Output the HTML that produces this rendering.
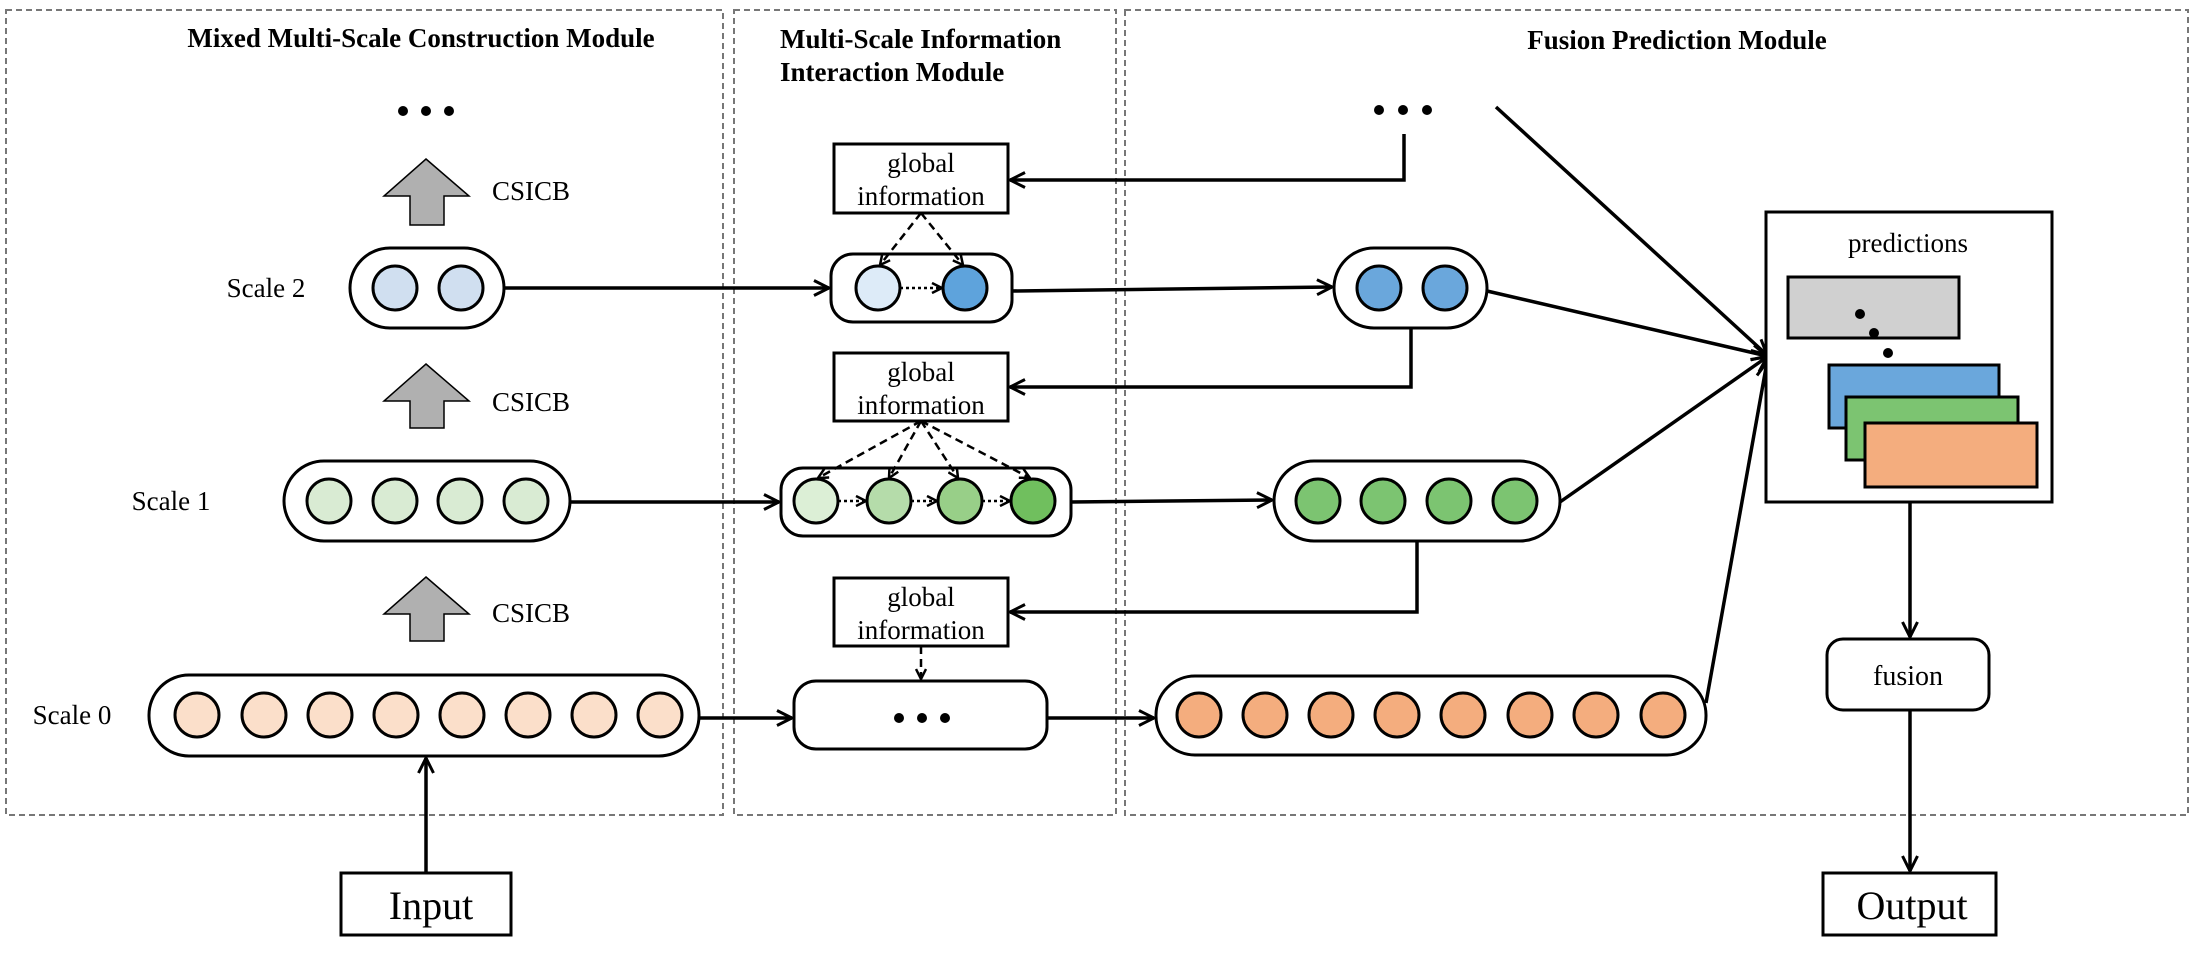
<!DOCTYPE html>
<html><head><meta charset="utf-8"><style>
html,body{margin:0;padding:0;background:#fff;}
svg{display:block;}
text{font-family:"Liberation Serif",serif;fill:#000;}
</style></head><body>
<svg width="2194" height="953" viewBox="0 0 2194 953" xmlns="http://www.w3.org/2000/svg">
<defs>
<marker id="a" viewBox="0 0 12 12" refX="11" refY="6" markerWidth="12" markerHeight="12" markerUnits="userSpaceOnUse" orient="auto">
<path d="M1,1 L11,6 L1,11" fill="none" stroke="#000" stroke-width="2.5"/></marker>
<marker id="b" viewBox="0 0 12 12" refX="11" refY="6" markerWidth="18" markerHeight="18" markerUnits="userSpaceOnUse" orient="auto">
<path d="M1,1 L11,6 L1,11" fill="none" stroke="#000" stroke-width="2"/></marker>
</defs>
<g fill="none" stroke="#777" stroke-width="2" stroke-dasharray="6,4">
<rect x="6" y="10" width="717" height="805"/>
<rect x="734" y="10" width="382" height="805"/>
<rect x="1125" y="10" width="1063" height="805"/>
</g>
<g font-weight="bold" font-size="27">
<text x="421" y="47" text-anchor="middle">Mixed Multi-Scale Construction Module</text>
<text x="780" y="48">Multi-Scale Information</text>
<text x="780" y="81">Interaction Module</text>
<text x="1677" y="49" text-anchor="middle">Fusion Prediction Module</text>
</g>
<g fill="#000"><circle cx="403" cy="111" r="5"/><circle cx="426" cy="111" r="5"/><circle cx="449" cy="111" r="5"/>
<circle cx="1379" cy="110" r="5"/><circle cx="1403" cy="110" r="5"/><circle cx="1427" cy="110" r="5"/></g>
<g fill="#b0b0b0" stroke="#000" stroke-width="1.5">
<path d="M426,159 L469,196 L444,196 L444,225 L410,225 L410,196 L384,196 Z"/>
<path d="M426,364 L469,401 L444,401 L444,428 L410,428 L410,401 L384,401 Z"/>
<path d="M426,577 L469,614 L444,614 L444,641 L410,641 L410,614 L384,614 Z"/>
</g>
<g font-size="27"><text x="492" y="200">CSICB</text><text x="492" y="411">CSICB</text><text x="492" y="622">CSICB</text></g>
<g font-size="27" text-anchor="middle"><text x="266" y="297">Scale 2</text><text x="171" y="510">Scale 1</text><text x="72" y="724">Scale 0</text></g>
<g fill="#fff" stroke="#000" stroke-width="3">
<rect x="350" y="248" width="154" height="80" rx="40"/>
<rect x="284" y="461" width="286" height="80" rx="40"/>
<rect x="149" y="675" width="550" height="81" rx="40"/>
<rect x="831" y="254" width="181" height="68" rx="22"/>
<rect x="781" y="468" width="290" height="68" rx="22"/>
<rect x="794" y="681" width="253" height="68" rx="22"/>
<rect x="1334" y="248" width="153" height="80" rx="40"/>
<rect x="1274" y="461" width="286" height="80" rx="40"/>
<rect x="1156" y="676" width="550" height="79" rx="39"/>
</g>
<g stroke="#000" stroke-width="3">
<g fill="#d0dff0"><circle cx="395" cy="288" r="22"/><circle cx="461" cy="288" r="22"/></g>
<g fill="#d9ebd3"><circle cx="329" cy="501" r="22"/><circle cx="395" cy="501" r="22"/><circle cx="460" cy="501" r="22"/><circle cx="526" cy="501" r="22"/></g>
<g fill="#fbdfca"><circle cx="197" cy="715" r="22"/><circle cx="264" cy="715" r="22"/><circle cx="330" cy="715" r="22"/><circle cx="396" cy="715" r="22"/><circle cx="462" cy="715" r="22"/><circle cx="528" cy="715" r="22"/><circle cx="594" cy="715" r="22"/><circle cx="660" cy="715" r="22"/></g>
<circle cx="878" cy="288" r="22" fill="#ddebf8"/><circle cx="965" cy="288" r="22" fill="#5ea3dc"/>
<circle cx="816" cy="501" r="22" fill="#dcefd6"/><circle cx="889" cy="501" r="22" fill="#b5dcaa"/><circle cx="960" cy="501" r="22" fill="#98cf88"/><circle cx="1033" cy="501" r="22" fill="#70bf5e"/>
<g fill="#6aa7dc"><circle cx="1379" cy="288" r="22"/><circle cx="1445" cy="288" r="22"/></g>
<g fill="#7cc471"><circle cx="1318" cy="501" r="22"/><circle cx="1383" cy="501" r="22"/><circle cx="1449" cy="501" r="22"/><circle cx="1515" cy="501" r="22"/></g>
<g fill="#f4ad7e"><circle cx="1199" cy="715" r="22"/><circle cx="1265" cy="715" r="22"/><circle cx="1331" cy="715" r="22"/><circle cx="1397" cy="715" r="22"/><circle cx="1463" cy="715" r="22"/><circle cx="1530" cy="715" r="22"/><circle cx="1596" cy="715" r="22"/><circle cx="1663" cy="715" r="22"/></g>
</g>
<g fill="#000"><circle cx="899" cy="718" r="5"/><circle cx="922" cy="718" r="5"/><circle cx="945" cy="718" r="5"/></g>
<g fill="#fff" stroke="#000" stroke-width="3">
<rect x="834" y="144" width="174" height="69"/>
<rect x="834" y="353" width="174" height="68"/>
<rect x="834" y="578" width="174" height="68"/>
</g>
<g font-size="27" text-anchor="middle">
<text x="921" y="172">global</text><text x="921" y="205">information</text>
<text x="921" y="381">global</text><text x="921" y="414">information</text>
<text x="921" y="606">global</text><text x="921" y="639">information</text>
</g>
<g fill="none" stroke="#000" stroke-width="3.5">
<line x1="504" y1="288" x2="829" y2="288" marker-end="url(#b)"/>
<line x1="570" y1="502" x2="779" y2="502" marker-end="url(#b)"/>
<line x1="699" y1="718" x2="792" y2="718" marker-end="url(#b)"/>
<line x1="426" y1="873" x2="426" y2="758" marker-end="url(#b)"/>
<line x1="1012" y1="291" x2="1332" y2="287" marker-end="url(#b)"/>
<line x1="1071" y1="502" x2="1272" y2="500" marker-end="url(#b)"/>
<line x1="1047" y1="718" x2="1154" y2="718" marker-end="url(#b)"/>
<polyline points="1404,134 1404,180 1010,180" marker-end="url(#b)"/>
<polyline points="1411,328 1411,387 1010,387" marker-end="url(#b)"/>
<polyline points="1417,541 1417,612 1010,612" marker-end="url(#b)"/>
<line x1="1496" y1="107" x2="1767" y2="355" marker-end="url(#b)"/>
<line x1="1487" y1="291" x2="1767" y2="356" marker-end="url(#b)"/>
<line x1="1560" y1="502" x2="1767" y2="357" marker-end="url(#b)"/>
<line x1="1706" y1="703" x2="1767" y2="362" marker-end="url(#b)"/>
<line x1="1910" y1="502" x2="1910" y2="637" marker-end="url(#b)"/>
<line x1="1910" y1="710" x2="1910" y2="871" marker-end="url(#b)"/>
</g>
<g fill="none" stroke="#000" stroke-width="2.5" stroke-dasharray="8,5">
<line x1="921" y1="213" x2="880" y2="265" marker-end="url(#a)"/>
<line x1="921" y1="213" x2="963" y2="265" marker-end="url(#a)"/>
<line x1="921" y1="421" x2="818" y2="478" marker-end="url(#a)"/>
<line x1="921" y1="421" x2="889" y2="478" marker-end="url(#a)"/>
<line x1="921" y1="421" x2="958" y2="478" marker-end="url(#a)"/>
<line x1="921" y1="421" x2="1030" y2="478" marker-end="url(#a)"/>
<line x1="921" y1="646" x2="921" y2="679" marker-end="url(#a)"/>
</g>
<g fill="none" stroke="#000" stroke-width="2.5" stroke-dasharray="3,3">
<line x1="900" y1="288" x2="942" y2="288" marker-end="url(#a)"/>
<line x1="838" y1="501" x2="866" y2="501" marker-end="url(#a)"/>
<line x1="911" y1="501" x2="937" y2="501" marker-end="url(#a)"/>
<line x1="982" y1="501" x2="1010" y2="501" marker-end="url(#a)"/>
</g>
<rect x="1766" y="212" width="286" height="290" fill="#fff" stroke="#000" stroke-width="3"/>
<text x="1908" y="252" font-size="27" text-anchor="middle">predictions</text>
<rect x="1788" y="277" width="171" height="61" fill="#d0d0d0" stroke="#000" stroke-width="3"/>
<g fill="#000"><circle cx="1860" cy="314" r="5"/><circle cx="1874" cy="333" r="5"/><circle cx="1888" cy="353" r="5"/></g>
<rect x="1829" y="365" width="170" height="63" fill="#6aa7dc" stroke="#000" stroke-width="3"/>
<rect x="1846" y="397" width="172" height="63" fill="#7cc471" stroke="#000" stroke-width="3"/>
<rect x="1865" y="423" width="172" height="64" fill="#f4ad7e" stroke="#000" stroke-width="3"/>
<rect x="1827" y="639" width="162" height="71" rx="16" fill="#fff" stroke="#000" stroke-width="3"/>
<text x="1908" y="685" font-size="28" text-anchor="middle">fusion</text>
<rect x="341" y="873" width="170" height="62" fill="#fff" stroke="#000" stroke-width="3"/>
<text x="431" y="919" font-size="40" text-anchor="middle">Input</text>
<rect x="1823" y="873" width="173" height="62" fill="#fff" stroke="#000" stroke-width="3"/>
<text x="1912" y="919" font-size="40" text-anchor="middle">Output</text>
</svg>
</body></html>
